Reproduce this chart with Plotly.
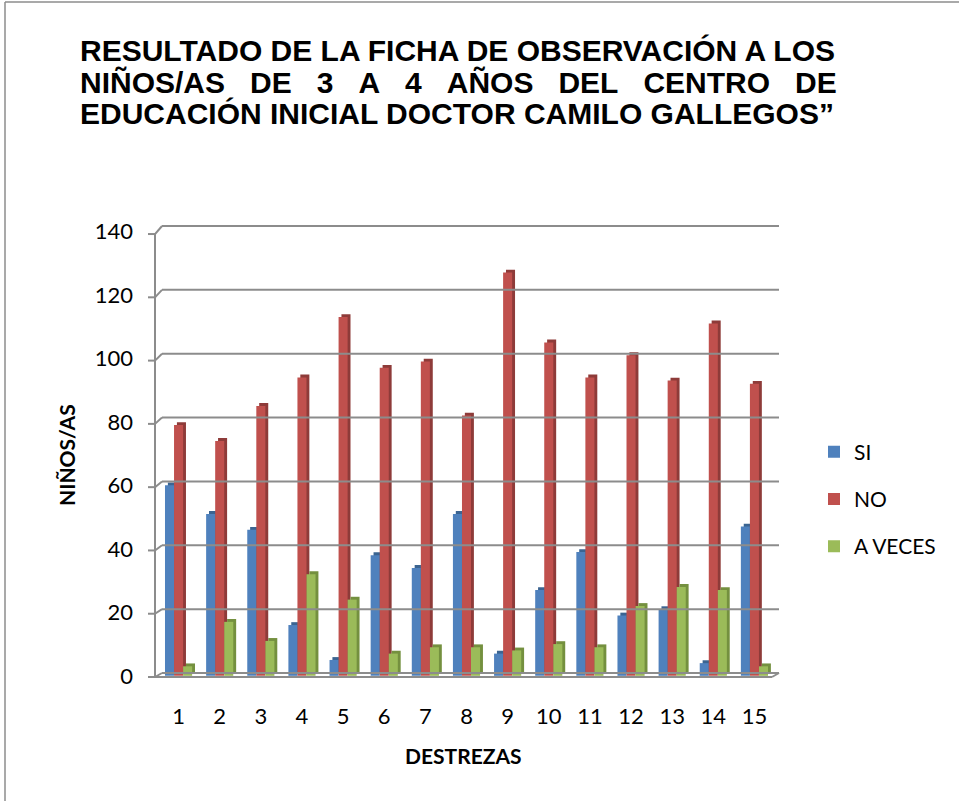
import plotly.graph_objects as go

categories = [str(i) for i in range(1, 16)]
si = [60, 51, 46, 16, 5, 38, 34, 51, 7, 27, 39, 19, 21, 4, 47]
no = [79, 74, 85, 94, 113, 97, 99, 82, 127, 105, 94, 101, 93, 111, 92]
a_veces = [3, 17, 11, 32, 24, 7, 9, 9, 8, 10, 9, 22, 28, 27, 3]
y_ticks = [0, 20, 40, 60, 80, 100, 120, 140]
series_names = ["SI", "NO", "A VECES"]

W, H = 959, 801
L, R, T, B = 158, 775, 225, 679          # plot (bar) area in page pixels
YMIN, YMAX = -1, 142

def px(x):
    return (x - L) / (R - L)

def py(y):
    return (B - y) / (B - T)

# 3D-like frame scales (pixel position of a value on the back wall / front axis)
def back_y(v):
    return 673 - v * 3.193

def front_y(v):
    return 677 - v * 3.164

faces = ["#4F81BD", "#C0504D", "#9BBB59"]
sides = ["#3B6491", "#8E3B39", "#74903F"]
offsets = [-0.33, -0.11, 0.11]
width = 0.22
dx = 0.07      # side depth in category units
dy = 0.9       # top depth in value units

fig = go.Figure()
for name, vals, face, side, off in zip(series_names, [si, no, a_veces], faces, sides, offsets):
    fig.add_trace(go.Bar(
        x=categories, y=vals, base=dy, offset=off + dx, width=width,
        marker=dict(color=side, line=dict(width=0)),
        showlegend=False, hoverinfo="skip", legendgroup=name,
    ))
    fig.add_trace(go.Bar(
        x=categories, y=vals, name=name, offset=off, width=width,
        marker=dict(color=face, line=dict(width=0)), legendgroup=name,
    ))

shapes = []
grid = dict(color="#8c8c8c", width=2)
for v in y_ticks:
    shapes.append(dict(type="line", xref="paper", yref="paper",
                       x0=px(162), x1=px(779), y0=py(back_y(v)), y1=py(back_y(v)), line=grid))
    shapes.append(dict(type="line", xref="paper", yref="paper",
                       x0=px(155), x1=px(162), y0=py(front_y(v)), y1=py(back_y(v)), line=grid))
    shapes.append(dict(type="line", xref="paper", yref="paper",
                       x0=px(148), x1=px(155), y0=py(front_y(v)), y1=py(front_y(v)), line=grid))
shapes.append(dict(type="line", xref="paper", yref="paper",
                   x0=px(155), x1=px(155), y0=py(front_y(0)), y1=py(front_y(140)), line=grid))
shapes.append(dict(type="line", xref="paper", yref="paper",
                   x0=px(155), x1=px(772), y0=py(front_y(0)), y1=py(front_y(0)), line=grid))
shapes.append(dict(type="line", xref="paper", yref="paper",
                   x0=px(772), x1=px(779), y0=py(front_y(0)), y1=py(back_y(0)), line=grid))
# outer chart border (left and top)
border = dict(color="#8c8c8c", width=1.5)
shapes.append(dict(type="line", xref="paper", yref="paper",
                   x0=px(5), x1=px(5), y0=py(2), y1=py(810), line=border))
shapes.append(dict(type="line", xref="paper", yref="paper",
                   x0=px(5), x1=px(970), y0=py(2), y1=py(2), line=border))

fig.update_layout(
    width=W, height=H,
    margin=dict(l=L, r=W - R, t=T, b=H - B),
    paper_bgcolor="white", plot_bgcolor="rgba(0,0,0,0)",
    barmode="overlay",
    font=dict(family="Lato, Liberation Sans, sans-serif", size=22, color="black"),
    showlegend=True,
    legend=dict(x=px(814), y=py(499), xanchor="left", yanchor="middle",
                font=dict(size=21), tracegroupgap=17, itemwidth=30,
                bgcolor="rgba(0,0,0,0)"),
    xaxis=dict(showline=False, ticks="", showgrid=False, zeroline=False,
               tickfont=dict(size=22), ticklabelstandoff=22),
    yaxis=dict(range=[YMIN, YMAX], tickvals=y_ticks, showline=False, ticks="",
               showgrid=False, zeroline=False,
               tickfont=dict(size=22), ticklabelstandoff=24),
    shapes=shapes,
)

fig.add_annotation(text="<b>DESTREZAS</b>", x=px(463), y=py(755), xref="paper", yref="paper",
                   xanchor="center", yanchor="middle", showarrow=False, font=dict(size=21))
fig.add_annotation(text="<b>NIÑOS/AS</b>", x=px(66), y=py(455), xref="paper", yref="paper",
                   xanchor="center", yanchor="middle", showarrow=False, textangle=-90,
                   font=dict(size=21))

title_lines = [
    "RESULTADO DE LA FICHA DE OBSERVACIÓN A LOS",
    "NIÑOS/AS\u00a0\u00a0\u00a0DE\u00a0\u00a0\u00a03\u00a0\u00a0\u00a0A\u00a0\u00a0\u00a04\u00a0\u00a0\u00a0AÑOS\u00a0\u00a0\u00a0DEL\u00a0\u00a0\u00a0CENTRO\u00a0\u00a0\u00a0DE",
    "EDUCACIÓN INICIAL DOCTOR CAMILO GALLEGOS”",
]
for line, yc in zip(title_lines, [50, 82, 113]):
    fig.add_annotation(text="<b>" + line + "</b>", x=px(78), y=py(yc), xref="paper", yref="paper",
                       xanchor="left", yanchor="middle", showarrow=False,
                       font=dict(family="Liberation Sans, Arial, sans-serif", size=30, color="black"))

fig.write_html("out.html", config={"displayModeBar": False},
               post_script="document.body.style.margin='0';document.body.style.overflow='hidden';")
